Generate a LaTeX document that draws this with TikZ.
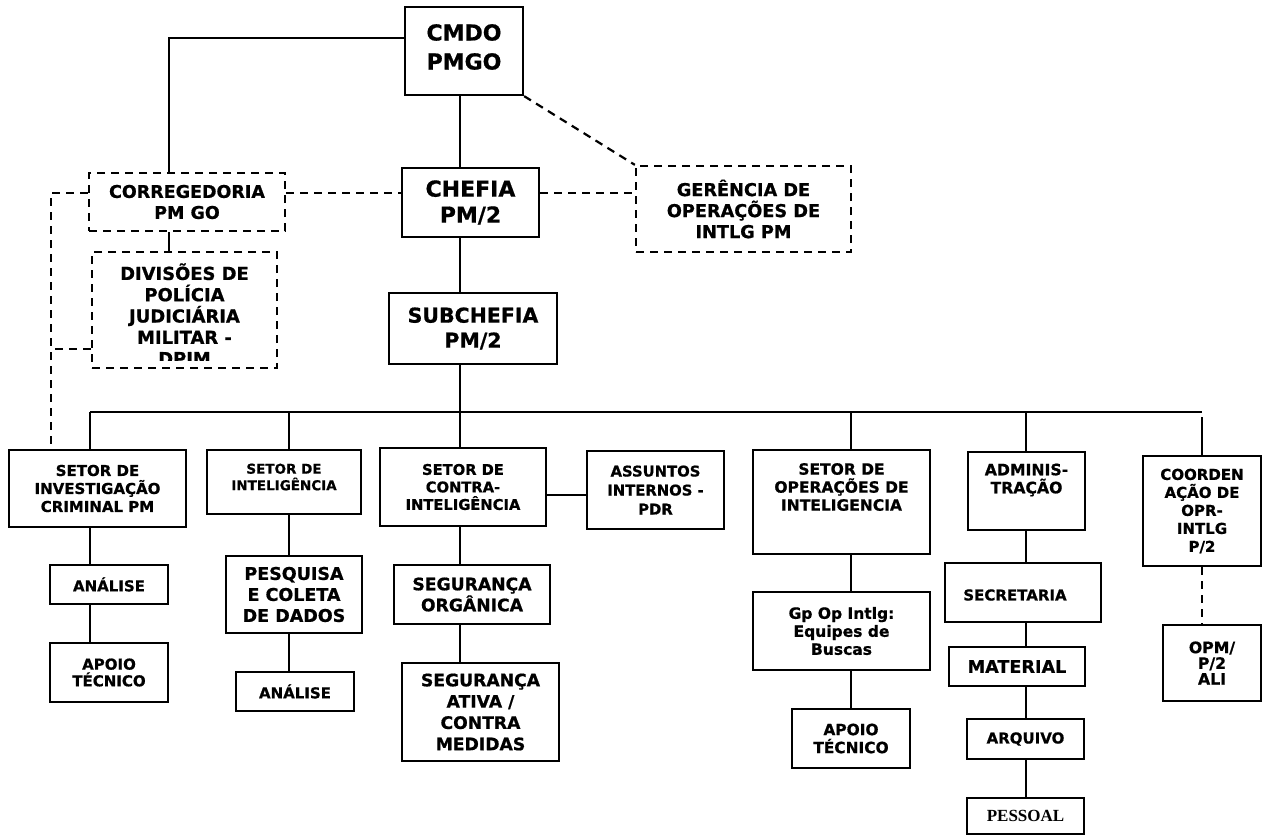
\documentclass[tikz,border=0pt]{standalone}
\usepackage{fontspec}
\setmainfont{DejaVu Sans}[BoldFeatures={FakeBold=0.8}]
\newfontfamily\pessfont{Liberation Serif}

\newcommand{\bsz}[2]{\fontsize{#1}{#2}\selectfont\bfseries}

\tikzset{
  box/.style={draw, line width=2.3pt, inner sep=0pt, align=center},
  dbox/.style={box, dash pattern=on 8pt off 6pt},
  link/.style={line width=2.2pt},
  dlink/.style={line width=2.2pt, dash pattern=on 8pt off 6pt},
}

\begin{document}
\begin{tikzpicture}[x=1pt, y=-1pt]
            \useasboundingbox (0,0) rectangle (1266,836);

            % Top: command, chefia, subchefia
            \node[box, minimum width=118pt, minimum height=88pt] (cmdo) at (464,51) {};
            \node[font=\bsz{22}{29}, align=center] (cmdo-t) at (464,47) {CMDO\\PMGO};
            \node[dbox, minimum width=196pt, minimum height=58pt, font=\bsz{17.5}{21}] (corr) at (187,202) {CORREGEDORIA\\PM GO};
            \node[box, minimum width=137pt, minimum height=69pt, font=\bsz{22}{26}] (chefia) at (470.5,202.5) {CHEFIA\\PM/2};
            \node[dbox, minimum width=215pt, minimum height=86pt, font=\bsz{17.7}{21}] (ger) at (743.5,209) {GERÊNCIA DE\\OPERAÇÕES DE\\INTLG PM};
            \node[box, minimum width=168pt, minimum height=71pt, font=\bsz{20.5}{25}] (sub) at (473,328.5) {SUBCHEFIA\\PM/2};

            % DPJM (text cut at the bottom)
            \node[dbox, minimum width=185pt, minimum height=116pt] (dpjm) at (184.5,310) {};
            \begin{scope}
              \clip (92,252) rectangle (277,360);
              \node[font=\bsz{17.9}{21.3}, align=center] (dpjm-t) at (184.5,316) {DIVISÕES DE\\POLÍCIA\\JUDICIÁRIA\\MILITAR -\\DPJM};
            \end{scope}

            % Setores
            \node[box, minimum width=177pt, minimum height=77pt, font=\bsz{15}{18}] (inv) at (97.5,488.5) {SETOR DE\\INVESTIGAÇÃO\\CRIMINAL PM};
            \node[box, minimum width=154pt, minimum height=64pt] (sint) at (284,482) {};
            \node[font=\bsz{13.5}{16.5}, align=center] (sint-t) at (284,477) {SETOR DE\\INTELIGÊNCIA};
            \node[box, minimum width=166pt, minimum height=78pt, font=\bsz{14.7}{17.5}] (scon) at (463,487) {SETOR DE\\CONTRA-\\INTELIGÊNCIA};
            \node[box, minimum width=137pt, minimum height=78pt, font=\bsz{14.8}{19}] (assu) at (655.5,490) {ASSUNTOS\\INTERNOS -\\PDR};
            \node[box, minimum width=177pt, minimum height=104pt] (sop) at (841.5,502) {};
            \node[font=\bsz{15.5}{18}, align=center] (sop-t) at (841.5,487) {SETOR DE\\OPERAÇÕES DE\\INTELIGENCIA};
            \node[box, minimum width=117pt, minimum height=78pt] (adm) at (1026.5,491) {};
            \node[font=\bsz{15.7}{18}, align=center] (adm-t) at (1026.5,480) {ADMINIS-\\TRAÇÃO};
            \node[box, minimum width=118pt, minimum height=110pt, font=\bsz{15}{18}] (coo) at (1202,511) {COORDEN\\AÇÃO DE\\OPR-\\INTLG\\P/2};

            % Lower boxes
            \node[box, minimum width=118pt, minimum height=39pt, font=\bsz{15}{18}] (anaA) at (109,584.5) {ANÁLISE};
            \node[box, minimum width=118pt, minimum height=59pt, font=\bsz{15}{16.7}] (apoA) at (109,672.5) {APOIO\\TÉCNICO};
            \node[box, minimum width=136pt, minimum height=77pt, font=\bsz{17.5}{21}] (pesq) at (294,594.5) {PESQUISA\\E COLETA\\DE DADOS};
            \node[box, minimum width=118pt, minimum height=39pt, font=\bsz{15}{18}] (anaB) at (295,691.5) {ANÁLISE};
            \node[box, minimum width=156pt, minimum height=59pt, font=\bsz{17.2}{21}] (sorg) at (472,594.5) {SEGURANÇA\\ORGÂNICA};
            \node[box, minimum width=157pt, minimum height=98pt, font=\bsz{17.2}{21.3}] (sati) at (480.5,712) {SEGURANÇA\\ATIVA /\\CONTRA\\MEDIDAS};
            \node[box, minimum width=177pt, minimum height=78pt, font=\bsz{15.5}{18}] (gpop) at (841.5,631) {Gp Op Intlg:\\Equipes de\\Buscas};
            \node[box, minimum width=118pt, minimum height=59pt, font=\bsz{15.4}{18}] (apoB) at (851,738.5) {APOIO\\TÉCNICO};
            \node[box, minimum width=156pt, minimum height=59pt] (secr) at (1023,592.5) {};
            \node[font=\bsz{15}{18}] (secr-t) at (1015,595) {SECRETARIA};
            \node[box, minimum width=136pt, minimum height=39pt, font=\bsz{17.6}{20}] (mat) at (1017,666.5) {MATERIAL};
            \node[box, minimum width=117pt, minimum height=40pt, font=\bsz{15}{18}] (arq) at (1025.5,739) {ARQUIVO};
            \node[box, minimum width=117pt, minimum height=36pt, font=\pessfont\bsz{17}{20}] (pess) at (1025.5,816) {PESSOAL};
            \node[box, minimum width=98pt, minimum height=76pt, font=\bsz{15.7}{15.7}] (opm) at (1212,663) {OPM/\\P/2\\ALI};

            % Columns
            \coordinate (cCor) at (169,0);
            \coordinate (hDash) at (0,193);
            \coordinate (dHook) at (0,349);
            \coordinate (lDash) at (51,445);
            \coordinate (cInv) at (90,412);
            \coordinate (cInt) at (289,412);
            \coordinate (cMid) at (460,412);
            \coordinate (cOp) at (851,412);
            \coordinate (cAdm) at (1026,412);
            \coordinate (cCoo) at (1202,412);

            % Top links
            \draw[link] ([yshift=13pt]cmdo.west) -| (cCor |- corr.north);
            \draw[link] (cMid |- cmdo.south) -- (cMid |- chefia.north);
            \draw[link] (cMid |- chefia.south) -- (cMid |- sub.north);
            \draw[link] (cMid |- sub.south) -- (cMid);
            \draw[line width=2.8pt] (cCor |- corr.south) -- (cCor |- dpjm.north);
            \draw[dlink] (cmdo.south east) -- (ger.north west);
            \draw[dlink] (corr.east |- hDash) -- (chefia.west |- hDash);
            \draw[dlink] (chefia.east |- hDash) -- (ger.west |- hDash);
            \draw[dlink] (corr.west |- hDash) -| (lDash);
            \draw[dlink] (dpjm.west |- dHook) -- (lDash |- dHook);

            % Bus and columns
            \draw[link] (cInv) -- (cCoo);
            \draw[link] (cInv) -- (cInv |- inv.north);
            \draw[link] (cInv |- inv.south) -- (cInv |- anaA.north);
            \draw[link] (cInv |- anaA.south) -- (cInv |- apoA.north);
            \draw[link] (cInt) -- (cInt |- sint.north);
            \draw[link] (cInt |- sint.south) -- (cInt |- pesq.north);
            \draw[link] (cInt |- pesq.south) -- (cInt |- anaB.north);
            \draw[link] (cMid) -- (cMid |- scon.north);
            \draw[link] (cMid |- scon.south) -- (cMid |- sorg.north);
            \draw[link] (cMid |- sorg.south) -- (cMid |- sati.north);
            \draw[link] ([yshift=-8pt]scon.east) -- ([yshift=-8pt]scon.east -| assu.west);
            \draw[link] (cOp) -- (cOp |- sop.north);
            \draw[link] (cOp |- sop.south) -- (cOp |- gpop.north);
            \draw[link] (cOp |- gpop.south) -- (cOp |- apoB.north);
            \draw[link] (cAdm) -- (cAdm |- adm.north);
            \draw[link] (cAdm |- adm.south) -- (cAdm |- secr.north);
            \draw[link] (cAdm |- secr.south) -- (cAdm |- mat.north);
            \draw[link] (cAdm |- mat.south) -- (cAdm |- arq.north);
            \draw[link] (cAdm |- arq.south) -- (cAdm |- pess.north);
            \draw[link] ([yshift=-5pt]cCoo) -- (cCoo |- coo.north);
            \draw[dlink] (cCoo |- coo.south) -- (cCoo |- opm.north);
        \end{tikzpicture}
\end{document}
